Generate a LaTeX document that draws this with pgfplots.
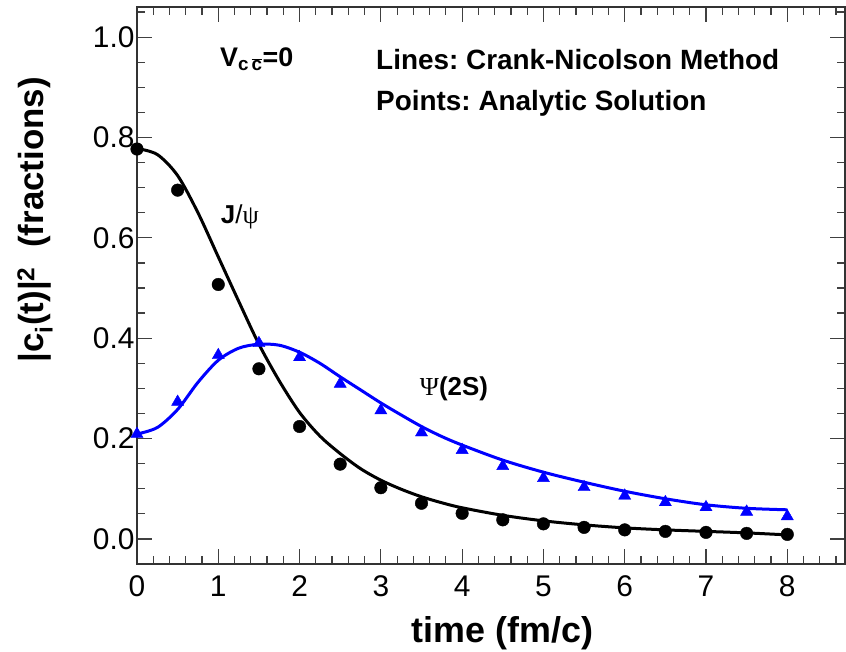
\documentclass[border=0pt]{standalone}
\usepackage{fontspec}
\setmainfont{Liberation Sans}
\newfontfamily\symfont{Liberation Serif}
\usepackage{pgfplots}
\pgfplotsset{compat=1.18}
\frenchspacing

\pgfplotstableread{
t v
0 0.778
0.25 0.766
0.5 0.724
0.75 0.650
1.0 0.562
1.25 0.474
1.5 0.388
1.75 0.315
2.0 0.252
2.25 0.205
2.5 0.170
2.75 0.140
3.0 0.117
3.25 0.099
3.5 0.084
3.75 0.072
4.0 0.062
4.5 0.047
5.0 0.036
5.5 0.028
6.0 0.022
6.5 0.018
7.0 0.015
7.5 0.012
8.0 0.008
}\jpsiline

\pgfplotstableread{
t v
0 0.209
0.25 0.222
0.5 0.258
0.75 0.312
1.0 0.356
1.25 0.380
1.5 0.388
1.75 0.386
2.0 0.372
2.25 0.350
2.5 0.323
2.75 0.297
3.0 0.271
3.25 0.247
3.5 0.224
3.75 0.204
4.0 0.187
4.5 0.157
5.0 0.133
5.5 0.113
6.0 0.095
6.5 0.080
7.0 0.068
7.5 0.061
8.0 0.058
}\psiline

\pgfplotstableread{
t v
0 0.777
0.5 0.695
1.0 0.507
1.5 0.339
2.0 0.224
2.5 0.149
3.0 0.102
3.5 0.071
4.0 0.051
4.5 0.038
5.0 0.030
5.5 0.023
6.0 0.018
6.5 0.015
7.0 0.013
7.5 0.011
8.0 0.009
}\jpsipts

\pgfplotstableread{
t v
0 0.209
0.5 0.273
1.0 0.366
1.5 0.390
2.0 0.362
2.5 0.309
3.0 0.256
3.5 0.212
4.0 0.177
4.5 0.145
5.0 0.121
5.5 0.103
6.0 0.086
6.5 0.073
7.0 0.063
7.5 0.054
8.0 0.045
}\psipts

\begin{document}
\begin{tikzpicture}
\begin{axis}[
  scale only axis,
  width=708bp, height=557bp,
  xmin=0, xmax=8.71, ymin=-0.05, ymax=1.06,
  xtick={0,1,2,3,4,5,6,7,8},
  xticklabels={0,1,2,3,4,5,6,7,8},
  ytick={0,0.2,0.4,0.6,0.8,1.0},
  yticklabels={0.0,0.2,0.4,0.6,0.8,1.0},
  minor xtick={0.2,0.4,0.6,0.8,1.2,1.4,1.6,1.8,2.2,2.4,2.6,2.8,3.2,3.4,3.6,3.8,4.2,4.4,4.6,4.8,5.2,5.4,5.6,5.8,6.2,6.4,6.6,6.8,7.2,7.4,7.6,7.8,8.2,8.4,8.6},
  minor ytick={0.05,0.1,0.15,0.25,0.3,0.35,0.45,0.5,0.55,0.65,0.7,0.75,0.85,0.9,0.95,1.05},
  tick align=inside,
  xtick pos=both, ytick pos=both,
  major tick length=15bp, minor tick length=8bp,
  every tick/.style={black!75, line width=1.2bp},
  axis line style={black!80, line width=1.5bp},
  tick label style={font=\fontsize{30}{36}\selectfont},
  xticklabel style={yshift=-8bp},
  yticklabel style={xshift=1bp},
  xlabel={time (fm/c)},
  xlabel style={font=\fontsize{36}{42}\selectfont\bfseries, at={(axis description cs:0.516,-0.124)}, anchor=center},
  ylabel={|c\textsubscript{i}(t)|\textsuperscript{2}\ \ (fractions)},
  ylabel style={font=\fontsize{35}{40}\selectfont\bfseries, at={(axis description cs:-0.144,0.618)}, anchor=center},
  clip=false,
]
\addplot[black, line width=3bp, smooth, tension=0.5] table[x=t,y=v] {\jpsiline};
\addplot[blue, line width=3bp, smooth, tension=0.5] table[x=t,y=v] {\psiline};
\addplot[only marks, mark=*, mark size=6.3bp, black] table[x=t,y=v] {\jpsipts};
\addplot[only marks, mark=triangle*, mark size=7bp, blue] table[x=t,y=v] {\psipts};

\node[anchor=west, font=\fontsize{27}{32}\selectfont\bfseries] at (axis cs:0.98,0.956) {V\textsubscript{c\,$\overline{\hbox{c}}$}=0};
\node[anchor=west, font=\fontsize{28}{32}\selectfont\bfseries] at (axis cs:2.90,0.956) {Lines: Crank-Nicolson Method};
\node[anchor=west, font=\fontsize{28}{32}\selectfont\bfseries] at (axis cs:2.90,0.869) {Points: Analytic Solution};
\node[font=\fontsize{26}{30}\selectfont] at (axis cs:1.265,0.641) {\textbf{J}/{\symfont ψ}};
\node[font=\fontsize{26}{30}\selectfont] at (axis cs:3.9,0.300) {{\symfont Ψ}\textbf{(2S)}};
\end{axis}
\pgfresetboundingbox
\path[use as bounding box] ([shift={(-137bp,-88bp)}]current axis.south west) rectangle ([shift={(1bp,7bp)}]current axis.north east);
\end{tikzpicture}
\end{document}
